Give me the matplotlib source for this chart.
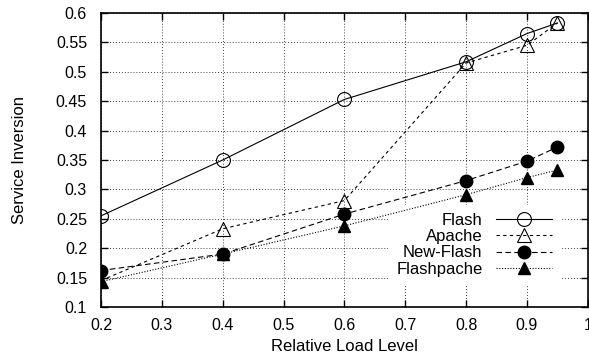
import matplotlib.pyplot as plt

plt.rcParams['font.family'] = ['Liberation Sans', 'DejaVu Sans']

load = [0.2, 0.4, 0.6, 0.8, 0.9, 0.95]
flash = [0.255, 0.350, 0.453, 0.517, 0.565, 0.583]
apache = [0.145, 0.233, 0.281, 0.515, 0.545, 0.583]
new_flash = [0.162, 0.190, 0.258, 0.315, 0.348, 0.372]
flashpache = [0.143, 0.190, 0.238, 0.291, 0.320, 0.333]

xticks = [0.2, 0.3, 0.4, 0.5, 0.6, 0.7, 0.8, 0.9, 1.0]
xlabels = ['0.2', '0.3', '0.4', '0.5', '0.6', '0.7', '0.8', '0.9', '1']
yticks = [0.1, 0.15, 0.2, 0.25, 0.3, 0.35, 0.4, 0.45, 0.5, 0.55, 0.6]
ylabels = ['0.1', '0.15', '0.2', '0.25', '0.3', '0.35', '0.4', '0.45', '0.5', '0.55', '0.6']

fig = plt.figure(figsize=(5.89, 3.58), dpi=100)
ax = fig.add_axes([0.1715, 0.1425, 0.8265, 0.8212])

lw = 0.8
ax.plot(load, flash, color='black', lw=lw, ls='-', marker='o', ms=10,
        mfc='none', mec='black', mew=0.8, label='Flash')
ax.plot(load, apache, color='black', lw=lw, dashes=(3, 3), marker='^', ms=9.5,
        mfc='none', mec='black', mew=0.8, label='Apache')
ax.plot(load, new_flash, color='black', lw=lw, dashes=(5, 3), marker='o', ms=9,
        mfc='black', mec='black', label='New-Flash')
ax.plot(load, flashpache, color='black', lw=lw, dashes=(1, 1.5), marker='^', ms=8.5,
        mfc='black', mec='black', label='Flashpache')

ax.set_xlim(0.2, 1.0)
ax.set_ylim(0.1, 0.6)
ax.set_xticks(xticks)
ax.set_xticklabels(xlabels)
ax.set_yticks(yticks)
ax.set_yticklabels(ylabels)
ax.tick_params(direction='in', length=5, width=1, top=True, right=True,
               labelsize=11.5, pad=8)
ax.tick_params(axis='y', pad=10)
ax.grid(True, color='black', lw=0.6, dashes=(1, 2.5))
for s in ax.spines.values():
    s.set_linewidth(1.2)

ax.set_xlabel('Relative Load Level', fontsize=12)
ax.set_ylabel('Service Inversion', fontsize=12)
ax.xaxis.set_label_coords(0.5, -0.108)
ax.yaxis.set_label_coords(-0.152, 0.5)

# white key box hides the grid but sits under the data lines
leg = ax.legend(loc='lower right', bbox_to_anchor=(0.944, 0.075), borderaxespad=0,
                markerfirst=False, fontsize=12, handlelength=3.35, handletextpad=0.84,
                labelspacing=0.07, frameon=True, fancybox=False,
                edgecolor='none', facecolor='white', framealpha=1,
                borderpad=0.5)
leg.set_zorder(1.8)

plt.savefig('out.png', dpi=100)
